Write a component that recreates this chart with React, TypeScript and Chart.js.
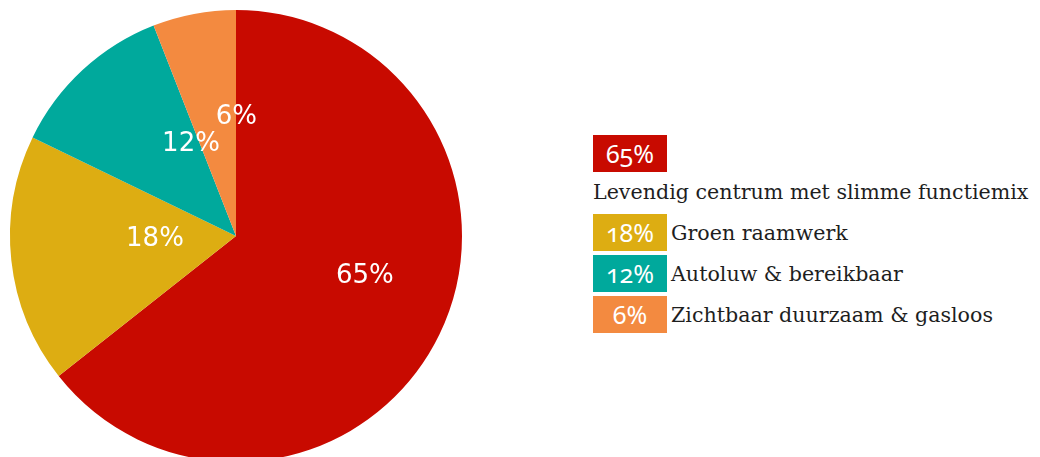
import React, { useEffect, useRef } from "react";
import { Chart, registerables } from "chart.js";

Chart.register(...registerables);

const categories = [
  "Levendig centrum met slimme functiemix",
  "Groen raamwerk",
  "Autoluw & bereikbaar",
  "Zichtbaar duurzaam & gasloos",
];
const values = [65, 18, 12, 6];
const colors = ["#C80A00", "#DDAD12", "#00A99C", "#F38A40"];

// label placement relative to each slice (degrees shift from mid-angle, fraction of radius)
const labelAngleShift = [-8.6, 3.7, 16.7, 10.9];
const labelRadius = [0.597, 0.359, 0.453, 0.527];

const sliceLabels = {
  id: "sliceLabels",
  afterDatasetsDraw(chart: any) {
    const ctx = chart.ctx;
    const meta = chart.getDatasetMeta(0);
    ctx.save();
    ctx.font = "26px 'DejaVu Sans'";
    ctx.fillStyle = "#ffffff";
    ctx.textAlign = "center";
    ctx.textBaseline = "middle";
    meta.data.forEach((arc: any, i: number) => {
      const p = arc.getProps(["x", "y", "startAngle", "endAngle", "outerRadius"], true);
      const a = (p.startAngle + p.endAngle) / 2 + (labelAngleShift[i] * Math.PI) / 180;
      const r = p.outerRadius * labelRadius[i];
      ctx.fillText(`${values[i]}%`, p.x + Math.cos(a) * r, p.y + Math.sin(a) * r);
    });
    ctx.restore();
  },
};

export default function App() {
  const canvasRef = useRef<HTMLCanvasElement | null>(null);

  useEffect(() => {
    if (!canvasRef.current) return;
    const chart = new Chart(canvasRef.current, {
      type: "pie",
      data: {
        labels: categories,
        datasets: [
          {
            data: values,
            backgroundColor: colors,
            borderWidth: 0,
          },
        ],
      },
      options: {
        responsive: false,
        animation: false,
        layout: { padding: 10 },
        plugins: {
          legend: { display: false },
          tooltip: { enabled: false },
        },
      },
      plugins: [sliceLabels],
    });
    return () => chart.destroy();
  }, []);

  return (
    <div
      style={{
        position: "absolute",
        left: 0,
        top: 0,
        width: 1040,
        height: 457,
        overflow: "hidden",
        background: "#ffffff",
      }}
    >
      <div style={{ position: "absolute", left: 0, top: 0, width: 472, height: 472 }}>
        <canvas ref={canvasRef} width={472} height={472} style={{ width: 472, height: 472 }} />
      </div>
      <div style={{ position: "absolute", left: 593, top: 135, width: 447 }}>
        {categories.map((cat, i) => (
          <div
            key={cat}
            style={{
              display: "flex",
              flexWrap: "wrap",
              alignItems: "center",
              rowGap: 2,
              columnGap: 4,
              marginBottom: 4,
            }}
          >
            <div
              style={{
                width: 74,
                height: 37,
                background: colors[i],
                color: "#ffffff",
                fontFamily: "'Noto Sans', sans-serif",
                fontSize: 25,
                fontVariantNumeric: "oldstyle-nums",
                display: "flex",
                alignItems: "center",
                justifyContent: "center",
                lineHeight: "37px",
              }}
            >
              {values[i]}%
            </div>
            <div
              style={{
                whiteSpace: "nowrap",
                fontFamily: "'DejaVu Serif', serif",
                fontSize: 20.6,
                lineHeight: "36px",
                color: "#1e1e1e",
              }}
            >
              {cat}
            </div>
          </div>
        ))}
      </div>
    </div>
  );
}
